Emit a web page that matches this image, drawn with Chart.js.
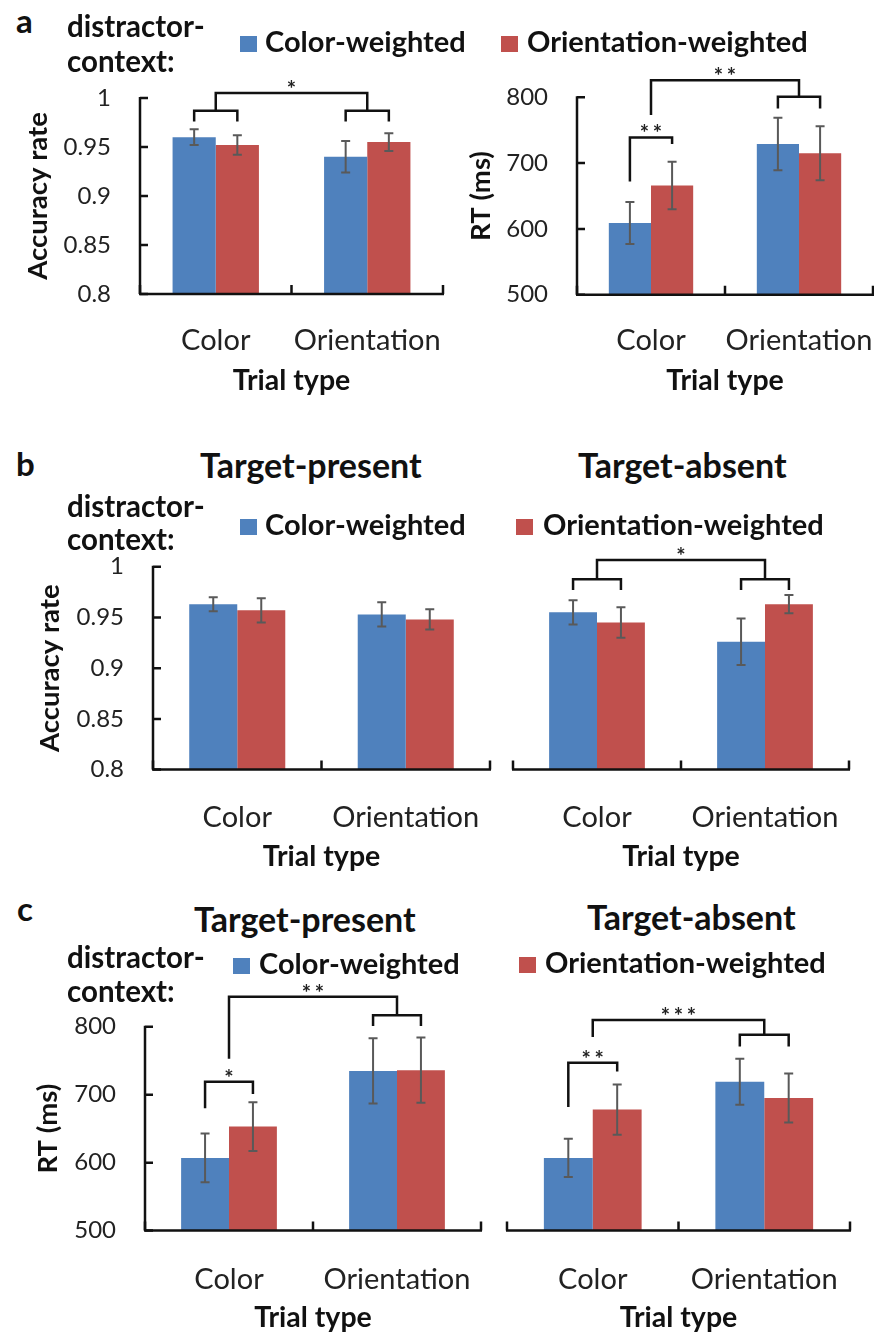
<!DOCTYPE html>
<html>
<head>
<meta charset="utf-8">
<script src="https://cdn.jsdelivr.net/npm/chart.js@4.4.0/dist/chart.umd.min.js"></script>
<style>
  html, body { margin: 0; padding: 0; background: #fff; }
  body { width: 874px; height: 1337px; position: relative; overflow: hidden; font-family: Lato, sans-serif; color: #111; }
  canvas { position: absolute; }
  .t { position: absolute; white-space: nowrap; line-height: 1; }
  .sw { position: absolute; }
</style>
</head>
<body>
<canvas id="aAcc"></canvas>
<canvas id="aRt"></canvas>
<canvas id="bPres"></canvas>
<canvas id="bAbs"></canvas>
<canvas id="cPres"></canvas>
<canvas id="cAbs"></canvas>
<script>
var trialTypes = ["Color", "Orientation"];
var contextNames = ["Color-weighted", "Orientation-weighted"];
var searchTypes = ["Target-present", "Target-absent"];
var accTickLabels = ["0.8", "0.85", "0.9", "0.95", "1"];
var rtTickLabels = ["500", "600", "700", "800"];

// a: overall accuracy and RT
var aAccColorW = [0.960, 0.940];
var aAccColorWErr = [0.008, 0.016];
var aAccOrientW = [0.952, 0.955];
var aAccOrientWErr = [0.010, 0.009];
var aRtColorW = [609, 729];
var aRtColorWErr = [32, 40];
var aRtOrientW = [666, 715];
var aRtOrientWErr = [36, 41];

// b: accuracy by target presence
var bPresColorW = [0.963, 0.953];
var bPresColorWErr = [0.007, 0.012];
var bPresOrientW = [0.957, 0.948];
var bPresOrientWErr = [0.012, 0.010];
var bAbsColorW = [0.955, 0.926];
var bAbsColorWErr = [0.012, 0.023];
var bAbsOrientW = [0.945, 0.963];
var bAbsOrientWErr = [0.015, 0.009];

// c: RT by target presence
var cPresColorW = [607, 735];
var cPresColorWErr = [36, 48];
var cPresOrientW = [653, 736];
var cPresOrientWErr = [36, 48];
var cAbsColorW = [607, 719];
var cAbsColorWErr = [28, 34];
var cAbsOrientW = [678, 695];
var cAbsOrientWErr = [37, 36];

// significance brackets, in data units ([category, dataset] or [category])
var aAccBrackets = [
  { from: [0, 0], to: [0, 1], y: 0.987, legs: [0.976, 0.976], label: "" },
  { from: [1, 0], to: [1, 1], y: 0.987, legs: [0.976, 0.976], label: "" },
  { from: [0], to: [1], y: 1.005, legs: [0.987, 0.987], label: "*" }
];
var aRtBrackets = [
  { from: [0, 0], to: [0, 1], y: 739, legs: [672, 729], label: "**" },
  { from: [1, 0], to: [1, 1], y: 801, legs: [783, 783], label: "" },
  { from: [0], to: [1], y: 826, legs: [773, 801], label: "**" }
];
var bAbsBrackets = [
  { from: [0, 0], to: [0, 1], y: 0.9876, legs: [0.977, 0.977], label: "" },
  { from: [1, 0], to: [1, 1], y: 0.9876, legs: [0.977, 0.977], label: "" },
  { from: [0], to: [1], y: 1.0066, legs: [0.9876, 0.9876], label: "*" }
];
var cPresBrackets = [
  { from: [0, 0], to: [0, 1], y: 719, legs: [680, 701], label: "*" },
  { from: [1, 0], to: [1, 1], y: 817, legs: [801, 801], label: "" },
  { from: [0], to: [1], y: 844, legs: [753, 817], label: "**" }
];
var cAbsBrackets = [
  { from: [0, 0], to: [0, 1], y: 747, legs: [682, 734], label: "**" },
  { from: [1, 0], to: [1, 1], y: 788, legs: [771, 771], label: "" },
  { from: [0], to: [1], y: 810, legs: [785, 788], label: "***" }
];

var BLUE = "#4f81bd";
var RED = "#c0504d";
var panelExtras = {};

function bracketX(chart, ref) {
  if (ref.length < 2) {
    return chart.scales.x.getPixelForValue(ref[0]);
  }
  return chart.getDatasetMeta(ref[1]).data[ref[0]].x;
}

var figurePlugin = {
  id: "figureMarks",
  afterDatasetsDraw: function (chart) {
    var ctx = chart.ctx;
    var yScale = chart.scales.y;
    ctx.save();
    ctx.strokeStyle = "#595959";
    ctx.lineWidth = 2;
    chart.data.datasets.forEach(function (ds, di) {
      var meta = chart.getDatasetMeta(di);
      meta.data.forEach(function (bar, i) {
        var yHi = yScale.getPixelForValue(ds.data[i] + ds.errors[i]);
        var yLo = yScale.getPixelForValue(ds.data[i] - ds.errors[i]);
        ctx.beginPath();
        ctx.moveTo(bar.x, yHi);
        ctx.lineTo(bar.x, yLo);
        ctx.moveTo(bar.x - 4.5, yHi);
        ctx.lineTo(bar.x + 4.5, yHi);
        ctx.moveTo(bar.x - 4.5, yLo);
        ctx.lineTo(bar.x + 4.5, yLo);
        ctx.stroke();
      });
    });
    ctx.restore();
  },
  afterDraw: function (chart) {
    var extra = panelExtras[chart.canvas.id];
    var ctx = chart.ctx;
    var area = chart.chartArea;
    var xs = chart.scales.x;
    var ys = chart.scales.y;
    ctx.save();
    ctx.strokeStyle = "#111";
    ctx.lineWidth = 2.5;
    ctx.lineCap = "butt";
    ctx.lineJoin = "miter";

    // x axis with upward ticks at category boundaries
    ctx.beginPath();
    ctx.moveTo(area.left - 1, area.bottom);
    ctx.lineTo(area.right + 1, area.bottom);
    for (var i = 0; i <= chart.data.labels.length; i++) {
      var xb = xs.getPixelForValue(i - 0.5);
      ctx.moveTo(xb, area.bottom);
      ctx.lineTo(xb, area.bottom - 9);
    }
    ctx.stroke();

    // y axis with inward ticks and right-aligned labels
    if (extra.yAxis) {
      ctx.beginPath();
      ctx.moveTo(area.left, area.top - 1);
      ctx.lineTo(area.left, area.bottom);
      ys.ticks.forEach(function (t) {
        var yp = ys.getPixelForValue(t.value);
        ctx.moveTo(area.left, yp);
        ctx.lineTo(area.left + 8, yp);
      });
      ctx.stroke();

      ctx.fillStyle = "#222";
      ctx.font = "24px Lato";
      ctx.textAlign = "right";
      ctx.textBaseline = "middle";
      ys.ticks.forEach(function (t, idx) {
        ctx.fillText(extra.tickLabels[idx], area.left - 29, ys.getPixelForValue(t.value));
      });
    }

    // significance brackets
    ctx.fillStyle = "#222";
    ctx.font = "bold 22px Lato";
    ctx.textAlign = "center";
    ctx.textBaseline = "alphabetic";
    (extra.brackets || []).forEach(function (b) {
      var x1 = bracketX(chart, b.from);
      var x2 = bracketX(chart, b.to);
      var yTop = ys.getPixelForValue(b.y);
      ctx.beginPath();
      ctx.moveTo(x1, ys.getPixelForValue(b.legs[0]));
      ctx.lineTo(x1, yTop);
      ctx.lineTo(x2, yTop);
      ctx.lineTo(x2, ys.getPixelForValue(b.legs[1]));
      ctx.stroke();
      var n = b.label.length;
      for (var k = 0; k < n; k++) {
        ctx.fillText(b.label.charAt(k), (x1 + x2) / 2 + (k - (n - 1) / 2) * 13, yTop + 4);
      }
    });
    ctx.restore();
  }
};

function makeChart(cfg) {
  var canvas = document.getElementById(cfg.id);
  canvas.width = cfg.w;
  canvas.height = cfg.h;
  canvas.style.left = cfg.left + "px";
  canvas.style.top = cfg.top + "px";
  canvas.style.width = cfg.w + "px";
  canvas.style.height = cfg.h + "px";

  var isAcc = cfg.kind === "acc";
  panelExtras[cfg.id] = {
    yAxis: cfg.yTitle !== null,
    brackets: cfg.brackets,
    tickLabels: isAcc ? accTickLabels : rtTickLabels
  };

  return new Chart(canvas.getContext("2d"), {
    type: "bar",
    data: {
      labels: trialTypes,
      datasets: [
        { label: contextNames[0], data: cfg.blue, errors: cfg.blueErr, backgroundColor: BLUE },
        { label: contextNames[1], data: cfg.red, errors: cfg.redErr, backgroundColor: RED }
      ]
    },
    options: {
      responsive: false,
      animation: false,
      events: [],
      layout: { padding: { top: cfg.padTop, right: 30, left: cfg.padLeft || 0, bottom: 0 } },
      datasets: { bar: { barPercentage: 1, categoryPercentage: 0.57, borderWidth: 0 } },
      plugins: { legend: { display: false }, tooltip: { enabled: false } },
      scales: {
        x: {
          grid: { display: false },
          border: { display: false },
          ticks: { color: "#222", font: { size: 29 }, padding: cfg.xTickPad, maxRotation: 0, autoSkip: false },
          title: { display: true, text: "Trial type", color: "#111", font: { size: 28.5, weight: "bold" }, padding: 0 },
          afterFit: function (s) { s.height = cfg.xHeight; }
        },
        y: {
          display: cfg.yTitle !== null,
          min: isAcc ? 0.8 : 500,
          max: isAcc ? 1 : 800,
          grid: { display: false },
          border: { display: false },
          ticks: { display: false, stepSize: isAcc ? 0.05 : 100 },
          title: {
            display: cfg.yTitle !== null,
            text: cfg.yTitle || "",
            color: "#111",
            font: { size: 27.5, weight: "bold" },
            padding: { top: cfg.yTitlePad || 0, bottom: 0 }
          },
          afterFit: function (s) { if (cfg.yWidth) { s.width = cfg.yWidth; } }
        }
      }
    },
    plugins: [figurePlugin]
  });
}

function addText(text, x, baseline, size, bold) {
  var d = document.createElement("div");
  d.className = "t";
  d.textContent = text;
  d.style.left = x + "px";
  d.style.top = (baseline - 0.887 * size) + "px";
  d.style.fontSize = size + "px";
  d.style.fontWeight = bold ? "bold" : "normal";
  document.body.appendChild(d);
}

function addSwatch(color, x, y) {
  var d = document.createElement("div");
  d.className = "sw";
  d.style.left = x + "px";
  d.style.top = y + "px";
  d.style.width = "17px";
  d.style.height = "16px";
  d.style.background = color;
  document.body.appendChild(d);
}

Chart.defaults.font.family = "Lato";

// chart area edges: a-left 140..443 x 98..294, a-right 577..873, b 153..490 / 513..849 x 566.7..770,
// c 145..481 / 507..850 x 1026.7..1230.7 (right edge = canvas right - 30)
makeChart({ id: "aAcc", kind: "acc", left: 10, top: 50, w: 463, h: 348, padTop: 48,
  yWidth: 130, xHeight: 104, xTickPad: 21.7, yTitle: "Accuracy rate", yTitlePad: 11.5,
  blue: aAccColorW, blueErr: aAccColorWErr, red: aAccOrientW, redErr: aAccOrientWErr, brackets: aAccBrackets });
makeChart({ id: "aRt", kind: "rt", left: 455, top: 50, w: 448, h: 348, padTop: 47.3,
  yWidth: 122, xHeight: 103.3, xTickPad: 21.0, yTitle: "RT (ms)", yTitlePad: 10,
  blue: aRtColorW, blueErr: aRtColorWErr, red: aRtOrientW, redErr: aRtOrientWErr, brackets: aRtBrackets });
makeChart({ id: "bPres", kind: "acc", left: 20, top: 510, w: 500, h: 364.4, padTop: 56.7,
  yWidth: 133, xHeight: 104.4, xTickPad: 22.4, yTitle: "Accuracy rate", yTitlePad: 13.5,
  blue: bPresColorW, blueErr: bPresColorWErr, red: bPresOrientW, redErr: bPresOrientWErr, brackets: [] });
makeChart({ id: "bAbs", kind: "acc", left: 500, top: 510, w: 379, h: 364.4, padTop: 56.7, padLeft: 13,
  xHeight: 104.4, xTickPad: 22.4, yTitle: null,
  blue: bAbsColorW, blueErr: bAbsColorWErr, red: bAbsOrientW, redErr: bAbsOrientWErr, brackets: bAbsBrackets });
makeChart({ id: "cPres", kind: "rt", left: 15, top: 970, w: 496, h: 365.1, padTop: 56.7,
  yWidth: 130, xHeight: 104.4, xTickPad: 23.4, yTitle: "RT (ms)", yTitlePad: 16.5,
  blue: cPresColorW, blueErr: cPresColorWErr, red: cPresOrientW, redErr: cPresOrientWErr, brackets: cPresBrackets });
makeChart({ id: "cAbs", kind: "rt", left: 495, top: 970, w: 385, h: 365.1, padTop: 56.7, padLeft: 12,
  xHeight: 104.4, xTickPad: 23.4, yTitle: null,
  blue: cAbsColorW, blueErr: cAbsColorWErr, red: cAbsOrientW, redErr: cAbsOrientWErr, brackets: cAbsBrackets });

// panel letters, titles and the shared legends
addText("a", 16, 33, 33, true);
addText("distractor-", 67, 36.7, 29.5, true);
addText("context:", 67, 71.7, 29.5, true);
addSwatch(BLUE, 240, 36);
addText(contextNames[0], 265, 51.7, 29, true);
addSwatch(RED, 501, 36);
addText(contextNames[1], 527, 51.7, 29, true);

addText("b", 16, 476.7, 33, true);
addText(searchTypes[0], 200, 478.3, 34, true);
addText(searchTypes[1], 578, 478.3, 34, true);
addText("distractor-", 67, 516.7, 29.5, true);
addText("context:", 67, 550, 29.5, true);
addSwatch(BLUE, 240, 519);
addText(contextNames[0], 265, 534.3, 29, true);
addSwatch(RED, 516, 519);
addText(contextNames[1], 543, 534.3, 29, true);

addText("c", 17, 921.7, 33, true);
addText(searchTypes[0], 194, 931.7, 34, true);
addText(searchTypes[1], 587, 930, 34, true);
addText("distractor-", 67, 968.3, 29.5, true);
addText("context:", 67, 1001.7, 29.5, true);
addSwatch(BLUE, 233, 958);
addText(contextNames[0], 259, 973.3, 29, true);
addSwatch(RED, 519, 957);
addText(contextNames[1], 545, 973, 29, true);
</script>
</body>
</html>
